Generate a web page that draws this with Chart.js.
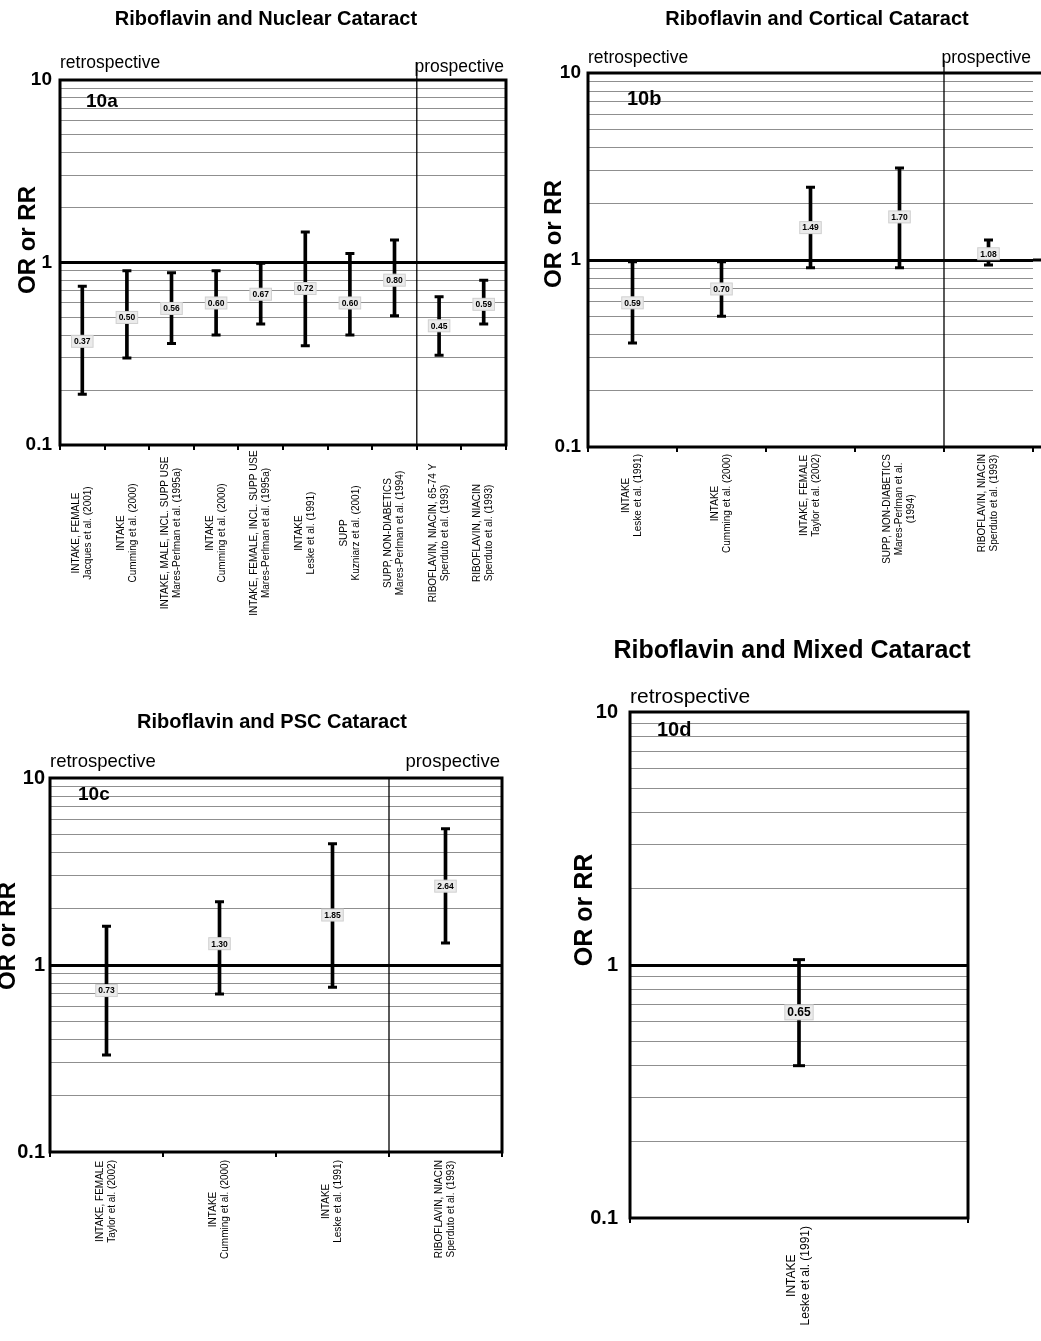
<!DOCTYPE html>
<html>
<head>
<meta charset="utf-8">
<title>Riboflavin and cataract</title>
<script src="https://cdn.jsdelivr.net/npm/chart.js@4.4.1/dist/chart.umd.min.js"></script>
<style>
  html, body { margin: 0; padding: 0; background: #fff; }
  body { width: 1041px; height: 1341px; position: relative; overflow: hidden; }
  canvas { position: absolute; }
</style>
</head>
<body>
<canvas id="chartA" width="520" height="640" style="left:0;top:0"></canvas>
<canvas id="chartB" width="530" height="640" style="left:520px;top:0"></canvas>
<canvas id="chartC" width="540" height="651" style="left:-20px;top:690px"></canvas>
<canvas id="chartD" width="521" height="721" style="left:520px;top:620px"></canvas>
<script>
'use strict';

const FONT = "'Liberation Sans', Arial, sans-serif";

// log axis: grid lines and the values that carry a label
const gridValues = [0.1, 0.2, 0.3, 0.4, 0.5, 0.6, 0.7, 0.8, 0.9, 1, 2, 3, 4, 5, 6, 7, 8, 9, 10];
const labeledTicks = [0.1, 1, 10];

// 10a - nuclear cataract
const catsA = [
  ['INTAKE, FEMALE', 'Jacques et al. (2001)'],
  ['INTAKE', 'Cumming et al. (2000)'],
  ['INTAKE, MALE, INCL. SUPP USE', 'Mares-Perlman et al. (1995a)'],
  ['INTAKE', 'Cumming et al. (2000)'],
  ['INTAKE, FEMALE, INCL. SUPP USE', 'Mares-Perlman et al. (1995a)'],
  ['INTAKE', 'Leske et al. (1991)'],
  ['SUPP', 'Kuzniarz et al. (2001)'],
  ['SUPP, NON-DIABETICS', 'Mares-Perlman et al. (1994)'],
  ['RIBOFLAVIN, NIACIN, 65-74 Y', 'Sperduto et al. (1993)'],
  ['RIBOFLAVIN, NIACIN', 'Sperduto et al. (1993)']
];
const estA = [0.37, 0.50, 0.56, 0.60, 0.67, 0.72, 0.60, 0.80, 0.45, 0.59];
const lowA = [0.19, 0.30, 0.36, 0.40, 0.46, 0.35, 0.40, 0.51, 0.31, 0.46];
const highA = [0.74, 0.90, 0.88, 0.90, 0.99, 1.47, 1.12, 1.33, 0.65, 0.80];

// 10b - cortical cataract
const catsB = [
  ['INTAKE', 'Leske et al. (1991)'],
  ['INTAKE', 'Cumming et al. (2000)'],
  ['INTAKE, FEMALE', 'Taylor et al. (2002)'],
  ['SUPP, NON-DIABETICS', 'Mares-Perlman et al.', '(1994)'],
  ['RIBOFLAVIN, NIACIN', 'Sperduto et al. (1993)']
];
const estB = [0.59, 0.70, 1.49, 1.70, 1.08];
const lowB = [0.36, 0.50, 0.91, 0.91, 0.94];
const highB = [0.98, 0.98, 2.45, 3.10, 1.28];

// 10c - PSC cataract
const catsC = [
  ['INTAKE, FEMALE', 'Taylor et al. (2002)'],
  ['INTAKE', 'Cumming et al. (2000)'],
  ['INTAKE', 'Leske et al. (1991)'],
  ['RIBOFLAVIN, NIACIN', 'Sperduto et al. (1993)']
];
const estC = [0.73, 1.30, 1.85, 2.64];
const lowC = [0.33, 0.70, 0.76, 1.31];
const highC = [1.61, 2.18, 4.45, 5.35];

// 10d - mixed cataract
const catsD = [['INTAKE', 'Leske et al. (1991)']];
const estD = [0.65];
const lowD = [0.40];
const highD = [1.05];

// draws frame, divider, rotated category labels, value boxes and the loose texts
const panelDecor = {
  id: 'panelDecor',
  beforeDatasetsDraw(chart, args, o) {
    const { ctx, chartArea: a } = chart;
    const xs = chart.scales.x;
    ctx.save();
    ctx.strokeStyle = '#000';
    if (o.split) {
      const px = (xs.getPixelForValue(o.split - 1) + xs.getPixelForValue(o.split)) / 2;
      ctx.lineWidth = 1.3;
      ctx.beginPath();
      ctx.moveTo(px, a.top - o.splitRise);
      ctx.lineTo(px, a.bottom);
      ctx.stroke();
    }
    ctx.lineWidth = 3;
    if (o.openRight) {
      const y1 = chart.scales.y.getPixelForValue(1);
      ctx.beginPath();
      ctx.moveTo(chart.width, a.top);
      ctx.lineTo(a.left, a.top);
      ctx.lineTo(a.left, a.bottom);
      ctx.lineTo(chart.width, a.bottom);
      ctx.moveTo(a.right, y1);
      ctx.lineTo(chart.width, y1);
      ctx.stroke();
    } else {
      ctx.strokeRect(a.left, a.top, a.width, a.height);
    }
    ctx.restore();
  },
  afterDatasetsDraw(chart, args, o) {
    const { ctx } = chart;
    const meta = chart.getDatasetMeta(3);
    const vals = chart.data.datasets[3].data;
    ctx.save();
    ctx.font = o.valueFont;
    ctx.textAlign = 'center';
    ctx.textBaseline = 'middle';
    meta.data.forEach((pt, i) => {
      const txt = vals[i].toFixed(2);
      const w = ctx.measureText(txt).width + 5;
      const h = o.valueBox;
      ctx.fillStyle = '#ebebeb';
      ctx.fillRect(pt.x - w / 2, pt.y - h / 2, w, h);
      ctx.strokeStyle = '#d0d0d0';
      ctx.lineWidth = 1;
      ctx.strokeRect(pt.x - w / 2, pt.y - h / 2, w, h);
      ctx.fillStyle = '#000';
      ctx.fillText(txt, pt.x, pt.y + 0.5);
    });
    ctx.restore();
  },
  afterDraw(chart, args, o) {
    const { ctx, chartArea: a } = chart;
    const xs = chart.scales.x;
    ctx.save();
    ctx.fillStyle = '#000';

    // category labels, rotated to read upwards
    ctx.font = o.xFont;
    chart.data.labels.forEach((lines, i) => {
      const px = xs.getPixelForValue(i);
      const w = Math.max(...lines.map(l => ctx.measureText(l).width));
      ctx.save();
      ctx.translate(px, a.bottom + o.xGap);
      ctx.rotate(-Math.PI / 2);
      ctx.textAlign = 'center';
      ctx.textBaseline = 'middle';
      const cx = o.xMode === 'top' ? -w / 2 : 0;
      lines.forEach((l, j) => ctx.fillText(l, cx, (j - (lines.length - 1) / 2) * o.xLine));
      ctx.restore();
    });

    // chart title
    ctx.textAlign = 'center';
    ctx.textBaseline = 'middle';
    ctx.font = o.titleFont;
    ctx.fillText(o.title, o.titleX, o.titleY);

    // y axis title
    ctx.save();
    ctx.translate(o.yTitleX, o.yTitleY);
    ctx.rotate(-Math.PI / 2);
    ctx.font = o.yTitleFont;
    ctx.fillText('OR or RR', 0, 0);
    ctx.restore();

    // panel tag
    ctx.textAlign = 'left';
    ctx.textBaseline = 'alphabetic';
    ctx.font = o.tagFont;
    ctx.fillText(o.tag, a.left + o.tagDx, a.top + o.tagDy);

    // study design headers
    ctx.font = o.headFont;
    ctx.fillText('retrospective', a.left, a.top + o.headDy);
    if (o.split) {
      ctx.textAlign = 'right';
      ctx.fillText('prospective', a.right - 2, a.top + o.prospDy);
    }
    ctx.restore();
  }
};

Chart.register(panelDecor);

function makePanel(id, cats, est, low, high, s) {
  return new Chart(document.getElementById(id), {
    type: 'bar',
    data: {
      labels: cats,
      datasets: [
        {
          type: 'bar',
          data: low.map((v, i) => [v, high[i]]),
          backgroundColor: '#000',
          borderWidth: 0,
          barThickness: 3
        },
        {
          type: 'line',
          data: high,
          showLine: false,
          pointStyle: 'line',
          pointRadius: s.cap,
          pointBorderWidth: 3,
          pointBorderColor: '#000',
          borderColor: '#000'
        },
        {
          type: 'line',
          data: low,
          showLine: false,
          pointStyle: 'line',
          pointRadius: s.cap,
          pointBorderWidth: 3,
          pointBorderColor: '#000',
          borderColor: '#000'
        },
        {
          type: 'line',
          data: est,
          showLine: false,
          pointRadius: 0
        }
      ]
    },
    options: {
      responsive: false,
      animation: false,
      devicePixelRatio: 1,
      events: [],
      layout: { padding: s.padding },
      plugins: {
        legend: { display: false },
        tooltip: { enabled: false },
        title: { display: false },
        panelDecor: s.decor
      },
      scales: {
        x: {
          type: 'category',
          offset: true,
          border: { display: false },
          grid: {
            offset: true,
            drawOnChartArea: false,
            drawTicks: true,
            tickLength: 5,
            color: '#000',
            lineWidth: 2
          },
          ticks: { display: false },
          afterFit: scale => { scale.height = s.xHeight; }
        },
        y: {
          type: 'logarithmic',
          min: 0.1,
          max: 10,
          border: { display: false },
          afterBuildTicks: scale => { scale.ticks = gridValues.map(v => ({ value: v })); },
          ticks: {
            autoSkip: false,
            color: '#000',
            padding: s.tickPad,
            font: { family: FONT, size: s.tickSize, weight: 'bold' },
            callback: v => (labeledTicks.includes(v) ? String(v) : '')
          },
          grid: {
            drawTicks: false,
            color: c => (c.tick && c.tick.value === 1 ? '#000' : '#8f8f8f'),
            lineWidth: c => (c.tick && c.tick.value === 1 ? 3 : 1)
          },
          afterFit: scale => { scale.width = s.yWidth; }
        }
      }
    }
  });
}

makePanel('chartA', catsA, estA, lowA, highA, {
  padding: { left: 0, top: 80, right: 14, bottom: 45 },
  yWidth: 60, xHeight: 150, tickSize: 19, tickPad: 8, cap: 4.5,
  decor: {
    split: 8, splitRise: 18,
    title: 'Riboflavin and Nuclear Cataract', titleX: 266, titleY: 19, titleFont: 'bold 20px ' + FONT,
    yTitleX: 28, yTitleY: 240, yTitleFont: 'bold 24px ' + FONT,
    tag: '10a', tagDx: 26, tagDy: 27, tagFont: 'bold 19px ' + FONT,
    headFont: '17.5px ' + FONT, headDy: -12, prospDy: -8,
    xFont: '10px ' + FONT, xLine: 12, xMode: 'middle', xGap: 88,
    valueFont: 'bold 8.5px ' + FONT, valueBox: 12
  }
});

makePanel('chartB', catsB, estB, lowB, highB, {
  padding: { left: 0, top: 73, right: 17, bottom: 43 },
  yWidth: 68, xHeight: 150, tickSize: 19, tickPad: 7, cap: 4.5,
  decor: {
    split: 4, splitRise: 12, openRight: true,
    title: 'Riboflavin and Cortical Cataract', titleX: 297, titleY: 19, titleFont: 'bold 20px ' + FONT,
    yTitleX: 34, yTitleY: 234, yTitleFont: 'bold 24px ' + FONT,
    tag: '10b', tagDx: 39, tagDy: 32, tagFont: 'bold 20px ' + FONT,
    headFont: '17.5px ' + FONT, headDy: -10, prospDy: -10,
    xFont: '10px ' + FONT, xLine: 12, xMode: 'top', xGap: 7,
    valueFont: 'bold 8.5px ' + FONT, valueBox: 12
  }
});

makePanel('chartC', catsC, estC, lowC, highC, {
  padding: { left: 0, top: 88, right: 18, bottom: 39 },
  yWidth: 70, xHeight: 150, tickSize: 20, tickPad: 5, cap: 4.5,
  decor: {
    split: 3, splitRise: 0,
    title: 'Riboflavin and PSC Cataract', titleX: 292, titleY: 32, titleFont: 'bold 20px ' + FONT,
    yTitleX: 28, yTitleY: 246, yTitleFont: 'bold 24px ' + FONT,
    tag: '10c', tagDx: 28, tagDy: 22, tagFont: 'bold 19px ' + FONT,
    headFont: '18.5px ' + FONT, headDy: -11, prospDy: -11,
    xFont: '10px ' + FONT, xLine: 12, xMode: 'top', xGap: 8,
    valueFont: 'bold 8.5px ' + FONT, valueBox: 12
  }
});

makePanel('chartD', catsD, estD, lowD, highD, {
  padding: { left: 0, top: 92, right: 73, bottom: 13 },
  yWidth: 110, xHeight: 110, tickSize: 20, tickPad: 12, cap: 6,
  decor: {
    split: 0, splitRise: 0,
    title: 'Riboflavin and Mixed Cataract', titleX: 272, titleY: 31, titleFont: 'bold 25px ' + FONT,
    yTitleX: 65, yTitleY: 290, yTitleFont: 'bold 25px ' + FONT,
    tag: '10d', tagDx: 27, tagDy: 24, tagFont: 'bold 20px ' + FONT,
    headFont: '21px ' + FONT, headDy: -9, prospDy: -9,
    xFont: '12px ' + FONT, xLine: 14, xMode: 'top', xGap: 8,
    valueFont: 'bold 12px ' + FONT, valueBox: 15
  }
});
</script>
</body>
</html>
